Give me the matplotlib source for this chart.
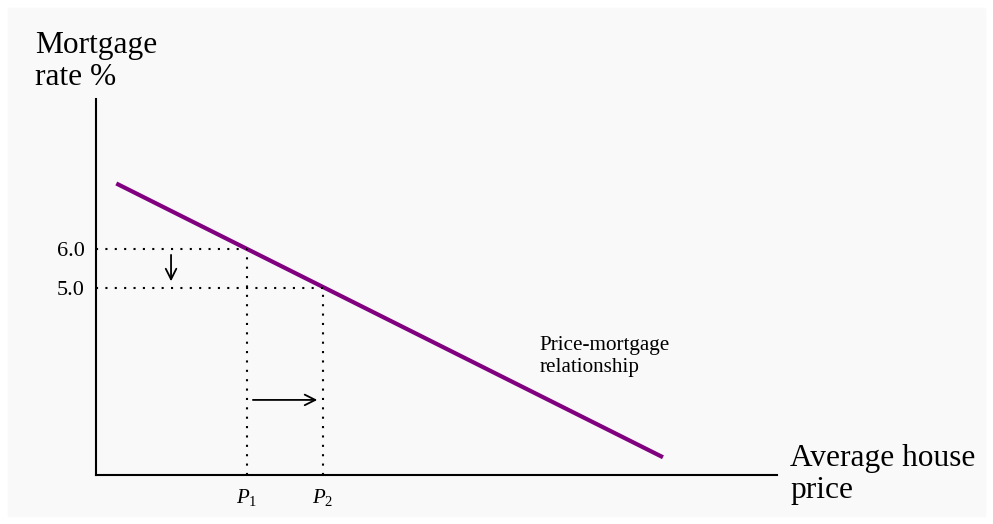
import matplotlib
matplotlib.use("Agg")
import matplotlib.pyplot as plt
from matplotlib.patches import Rectangle

plt.rcParams['font.family'] = ['Liberation Serif', 'DejaVu Serif']
plt.rcParams['mathtext.fontset'] = 'custom'
plt.rcParams['mathtext.rm'] = 'Liberation Serif'
plt.rcParams['mathtext.it'] = 'Liberation Serif:italic'

# curve end points (price, rate)
curve_x = [-0.72, 6.47]
curve_y = [7.68, 0.66]

# rates and prices marked on the axes
rates = [6.0, 5.0]
rate_labels = ['6.0', '5.0']
prices = [1, 2]
price_labels = ['$P_1$', '$P_2$']

purple = '#800080'

fig = plt.figure(figsize=(9.93, 5.24), dpi=100)
fig.patch.set_facecolor('white')
fig.patches.append(Rectangle((8 / 993, 8 / 524), 977 / 993, 508 / 524,
                             transform=fig.transFigure, color='#f9f9f9', zorder=-10))

ax = fig.add_axes([96 / 993, 49 / 524, 681 / 993, 376 / 524])
ax.set_facecolor('none')
ax.set_xlim(-0.987, 7.97)
ax.set_ylim(0.205, 9.846)

ax.spines['top'].set_visible(False)
ax.spines['right'].set_visible(False)
ax.spines['left'].set_linewidth(1.5)
ax.spines['bottom'].set_linewidth(1.5)

ax.plot(curve_x, curve_y, color=purple, lw=3, solid_capstyle='butt')

# dotted guides
for r, p in zip(rates, prices):
    ax.plot([-0.987, p], [r, r], color='black', lw=1.5, ls=(0, (1, 3.5)))
    ax.plot([p, p], [0.205, r], color='black', lw=1.5, ls=(0, (1, 3.5)))

# shift arrows
ax.annotate('', xy=(0.0, 5.1), xytext=(0.0, 5.92),
            arrowprops=dict(arrowstyle='->', color='black', lw=1.3, mutation_scale=19))
ax.annotate('', xy=(1.96, 2.13), xytext=(1.04, 2.13),
            arrowprops=dict(arrowstyle='->', color='black', lw=1.3, mutation_scale=19))

ax.set_yticks(rates)
ax.set_yticklabels(rate_labels, fontsize=16)
ax.set_xticks(prices)
ax.set_xticklabels(price_labels, fontsize=15)
ax.tick_params(length=0)
ax.tick_params(axis='y', pad=8)
ax.tick_params(axis='x', pad=9)

ax.text(4.842, 2.846, 'Price-mortgage\nrelationship', fontsize=15.2,
        ha='left', va='baseline', linespacing=1.25)

fig.text(35 / 993, 1 - 85 / 524, 'Mortgage\nrate %', fontsize=22.6,
         ha='left', va='baseline', linespacing=1.12)
fig.text(790 / 993, 1 - 498 / 524, 'Average house\nprice', fontsize=22.6,
         ha='left', va='baseline', linespacing=1.15)

fig.savefig('out.png', dpi=100)
